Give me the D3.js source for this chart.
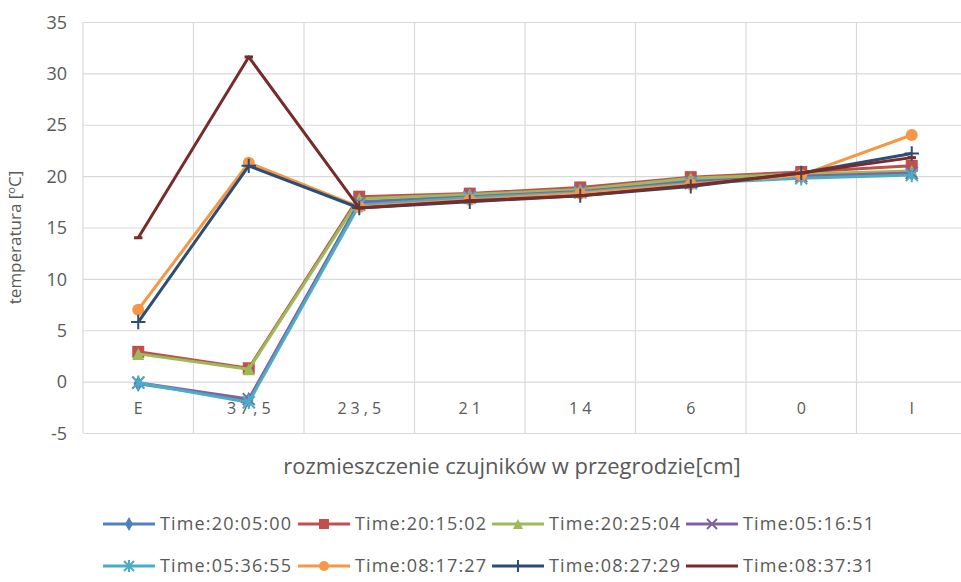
<!DOCTYPE html>
<html>
<head>
<meta charset="utf-8">
<script src="https://cdn.jsdelivr.net/npm/d3@7/dist/d3.min.js"></script>
<style>
  html, body { margin: 0; padding: 0; background: #fff; }
  svg { display: block; }
  text { font-family: "Open Sans", "Liberation Sans", sans-serif; fill: #595959; }
</style>
</head>
<body>
<svg id="chart" width="961" height="582"></svg>
<script>
// Sensor positions across the wall section
const categories = ["E", "37,5", "23,5", "21", "14", "6", "0", "I"];
const yTicks = [-5, 0, 5, 10, 15, 20, 25, 30, 35];

const seriesNames = [
  "Time:20:05:00", "Time:20:15:02", "Time:20:25:04", "Time:05:16:51",
  "Time:05:36:55", "Time:08:17:27", "Time:08:27:29", "Time:08:37:31"
];
const seriesColors = ["#4F81BD", "#C0504D", "#9BBB59", "#8064A2", "#4BACC6", "#F79646", "#2C4D75", "#772C2A"];
const seriesMarkers = ["diamond", "square", "triangle", "cross", "star", "circle", "plus", "dash"];

// Temperatures [°C] at each sensor
const t200500 = [-0.2, -1.8, 17.5, 18.1, 18.6, 19.6, 20.0, 20.3];
const t201502 = [2.9, 1.3, 18.0, 18.3, 18.9, 19.9, 20.4, 21.0];
const t202504 = [2.7, 1.2, 17.8, 18.2, 18.7, 19.8, 20.2, 20.5];
const t051651 = [-0.1, -1.7, 17.4, 18.0, 18.5, 19.4, 20.0, 20.3];
const t053655 = [-0.1, -2.0, 17.2, 17.9, 18.4, 19.3, 19.8, 20.1];
const t081727 = [7.0, 21.3, 17.0, 17.7, 18.3, 19.2, 20.1, 24.0];
const t082729 = [5.8, 21.0, 16.9, 17.5, 18.1, 19.0, 20.3, 22.2];
const t083731 = [14.0, 31.6, 16.9, 17.6, 18.1, 19.1, 20.3, 21.8];

const seriesValues = [t200500, t201502, t202504, t051651, t053655, t081727, t082729, t083731];

const svg = d3.select("#chart");

const plot = { left: 83, right: 967, top: 22, bottom: 433 };

const x = d3.scaleBand().domain(categories).range([plot.left, plot.right]).padding(0);
const y = d3.scaleLinear().domain([-5, 35]).range([plot.bottom, plot.top]);

// Horizontal gridlines and value labels
const yAxis = d3.axisLeft(y).tickValues(yTicks)
  .tickFormat(d => String(d))
  .tickSize(-(plot.right - plot.left)).tickPadding(16);
const gy = svg.append("g").attr("transform", `translate(${plot.left},0)`).call(yAxis);
gy.select(".domain").remove();
gy.selectAll(".tick line").attr("stroke", "#d9d9d9").attr("stroke-width", 1.2);
gy.selectAll(".tick text")
  .style("font-size", "18px")
  .attr("fill", "#595959")
  .attr("dy", "0.34em");

// Vertical gridlines at category boundaries
const bounds = categories.map(c => x(c)).concat([x(categories[categories.length - 1]) + x.bandwidth()]);
svg.append("g").selectAll("line").data(bounds).join("line")
  .attr("x1", d => d).attr("x2", d => d)
  .attr("y1", plot.top).attr("y2", plot.bottom)
  .attr("stroke", "#d9d9d9").attr("stroke-width", 1.2);

// Category labels sit just below the zero line
svg.append("g").selectAll("text").data(categories).join("text")
  .attr("x", d => x(d) + x.bandwidth() / 2 + 2)
  .attr("y", y(0) + 32)
  .attr("text-anchor", "middle")
  .style("font-size", "16px")
  .style("letter-spacing", "4px")
  .text(d => d);

// Axis titles
const yTitle = svg.append("text")
  .attr("transform", `translate(21,${(plot.top + plot.bottom) / 2 + 10}) rotate(-90)`)
  .attr("text-anchor", "middle")
  .style("font-size", "17px");
yTitle.append("tspan").text("temperatura [");
yTitle.append("tspan").attr("dy", "-6").style("font-size", "11px").text("o");
yTitle.append("tspan").attr("dy", "6").text("C]");

svg.append("text")
  .attr("x", 512).attr("y", 474)
  .attr("text-anchor", "middle")
  .style("font-size", "22px")
  .text("rozmieszczenie czujników w przegrodzie[cm]");

// Marker drawing
function drawMarker(g, type, color, size) {
  const s = size;
  switch (type) {
    case "diamond":
      g.append("path").attr("d", d3.symbol(d3.symbolDiamond, s * s * 0.55)()).attr("fill", color);
      break;
    case "square":
      g.append("rect").attr("x", -s / 2).attr("y", -s / 2).attr("width", s).attr("height", s).attr("fill", color);
      break;
    case "triangle":
      g.append("path").attr("d", `M0,${-s / 2}L${s / 2},${s / 2}L${-s / 2},${s / 2}Z`).attr("fill", color);
      break;
    case "circle":
      g.append("circle").attr("r", s / 2).attr("fill", color);
      break;
    case "cross":
      g.append("path").attr("d", `M${-s / 2},${-s / 2}L${s / 2},${s / 2}M${-s / 2},${s / 2}L${s / 2},${-s / 2}`)
        .attr("stroke", color).attr("stroke-width", 2).attr("fill", "none");
      break;
    case "star":
      g.append("path").attr("d", `M${-s / 2},${-s / 2}L${s / 2},${s / 2}M${-s / 2},${s / 2}L${s / 2},${-s / 2}M0,${-s * 0.6}L0,${s * 0.6}`)
        .attr("stroke", color).attr("stroke-width", 2).attr("fill", "none");
      break;
    case "plus":
      g.append("path").attr("d", `M${-s * 0.6},0L${s * 0.6},0M0,${-s * 0.6}L0,${s * 0.6}`)
        .attr("stroke", color).attr("stroke-width", 2).attr("fill", "none");
      break;
    case "dash":
      g.append("path").attr("d", `M${-s * 0.35},0L${s * 0.35},0`)
        .attr("stroke", color).attr("stroke-width", 3).attr("fill", "none");
      break;
  }
}

// Series lines with markers
const line = d3.line()
  .x((d, i) => x(categories[i]) + x.bandwidth() / 2)
  .y(d => y(d));

seriesValues.forEach((vals, si) => {
  const g = svg.append("g");
  g.append("path")
    .attr("d", line(vals))
    .attr("fill", "none")
    .attr("stroke", seriesColors[si])
    .attr("stroke-width", 3)
    .attr("stroke-linejoin", "round");
  vals.forEach((v, i) => {
    const mg = g.append("g")
      .attr("transform", `translate(${x(categories[i]) + x.bandwidth() / 2},${y(v)})`);
    drawMarker(mg, seriesMarkers[si], seriesColors[si], 12);
  });
});

// Legend: two rows of four entries
const legendX = [103, 298, 492, 686];
const legendY = [524, 566];
seriesNames.forEach((name, i) => {
  const lx = legendX[i % 4];
  const ly = legendY[Math.floor(i / 4)];
  const g = svg.append("g").attr("transform", `translate(${lx},${ly})`);
  g.append("line").attr("x1", 0).attr("x2", 52).attr("y1", 0).attr("y2", 0)
    .attr("stroke", seriesColors[i]).attr("stroke-width", 3);
  const mg = g.append("g").attr("transform", "translate(26,0)");
  if (seriesMarkers[i] !== "dash") drawMarker(mg, seriesMarkers[i], seriesColors[i], 10);
  g.append("text")
    .attr("x", 57).attr("y", 0).attr("dy", "0.35em")
    .attr("textLength", 131).attr("lengthAdjust", "spacing")
    .style("font-size", "18px")
    .text(name);
});
</script>
</body>
</html>
